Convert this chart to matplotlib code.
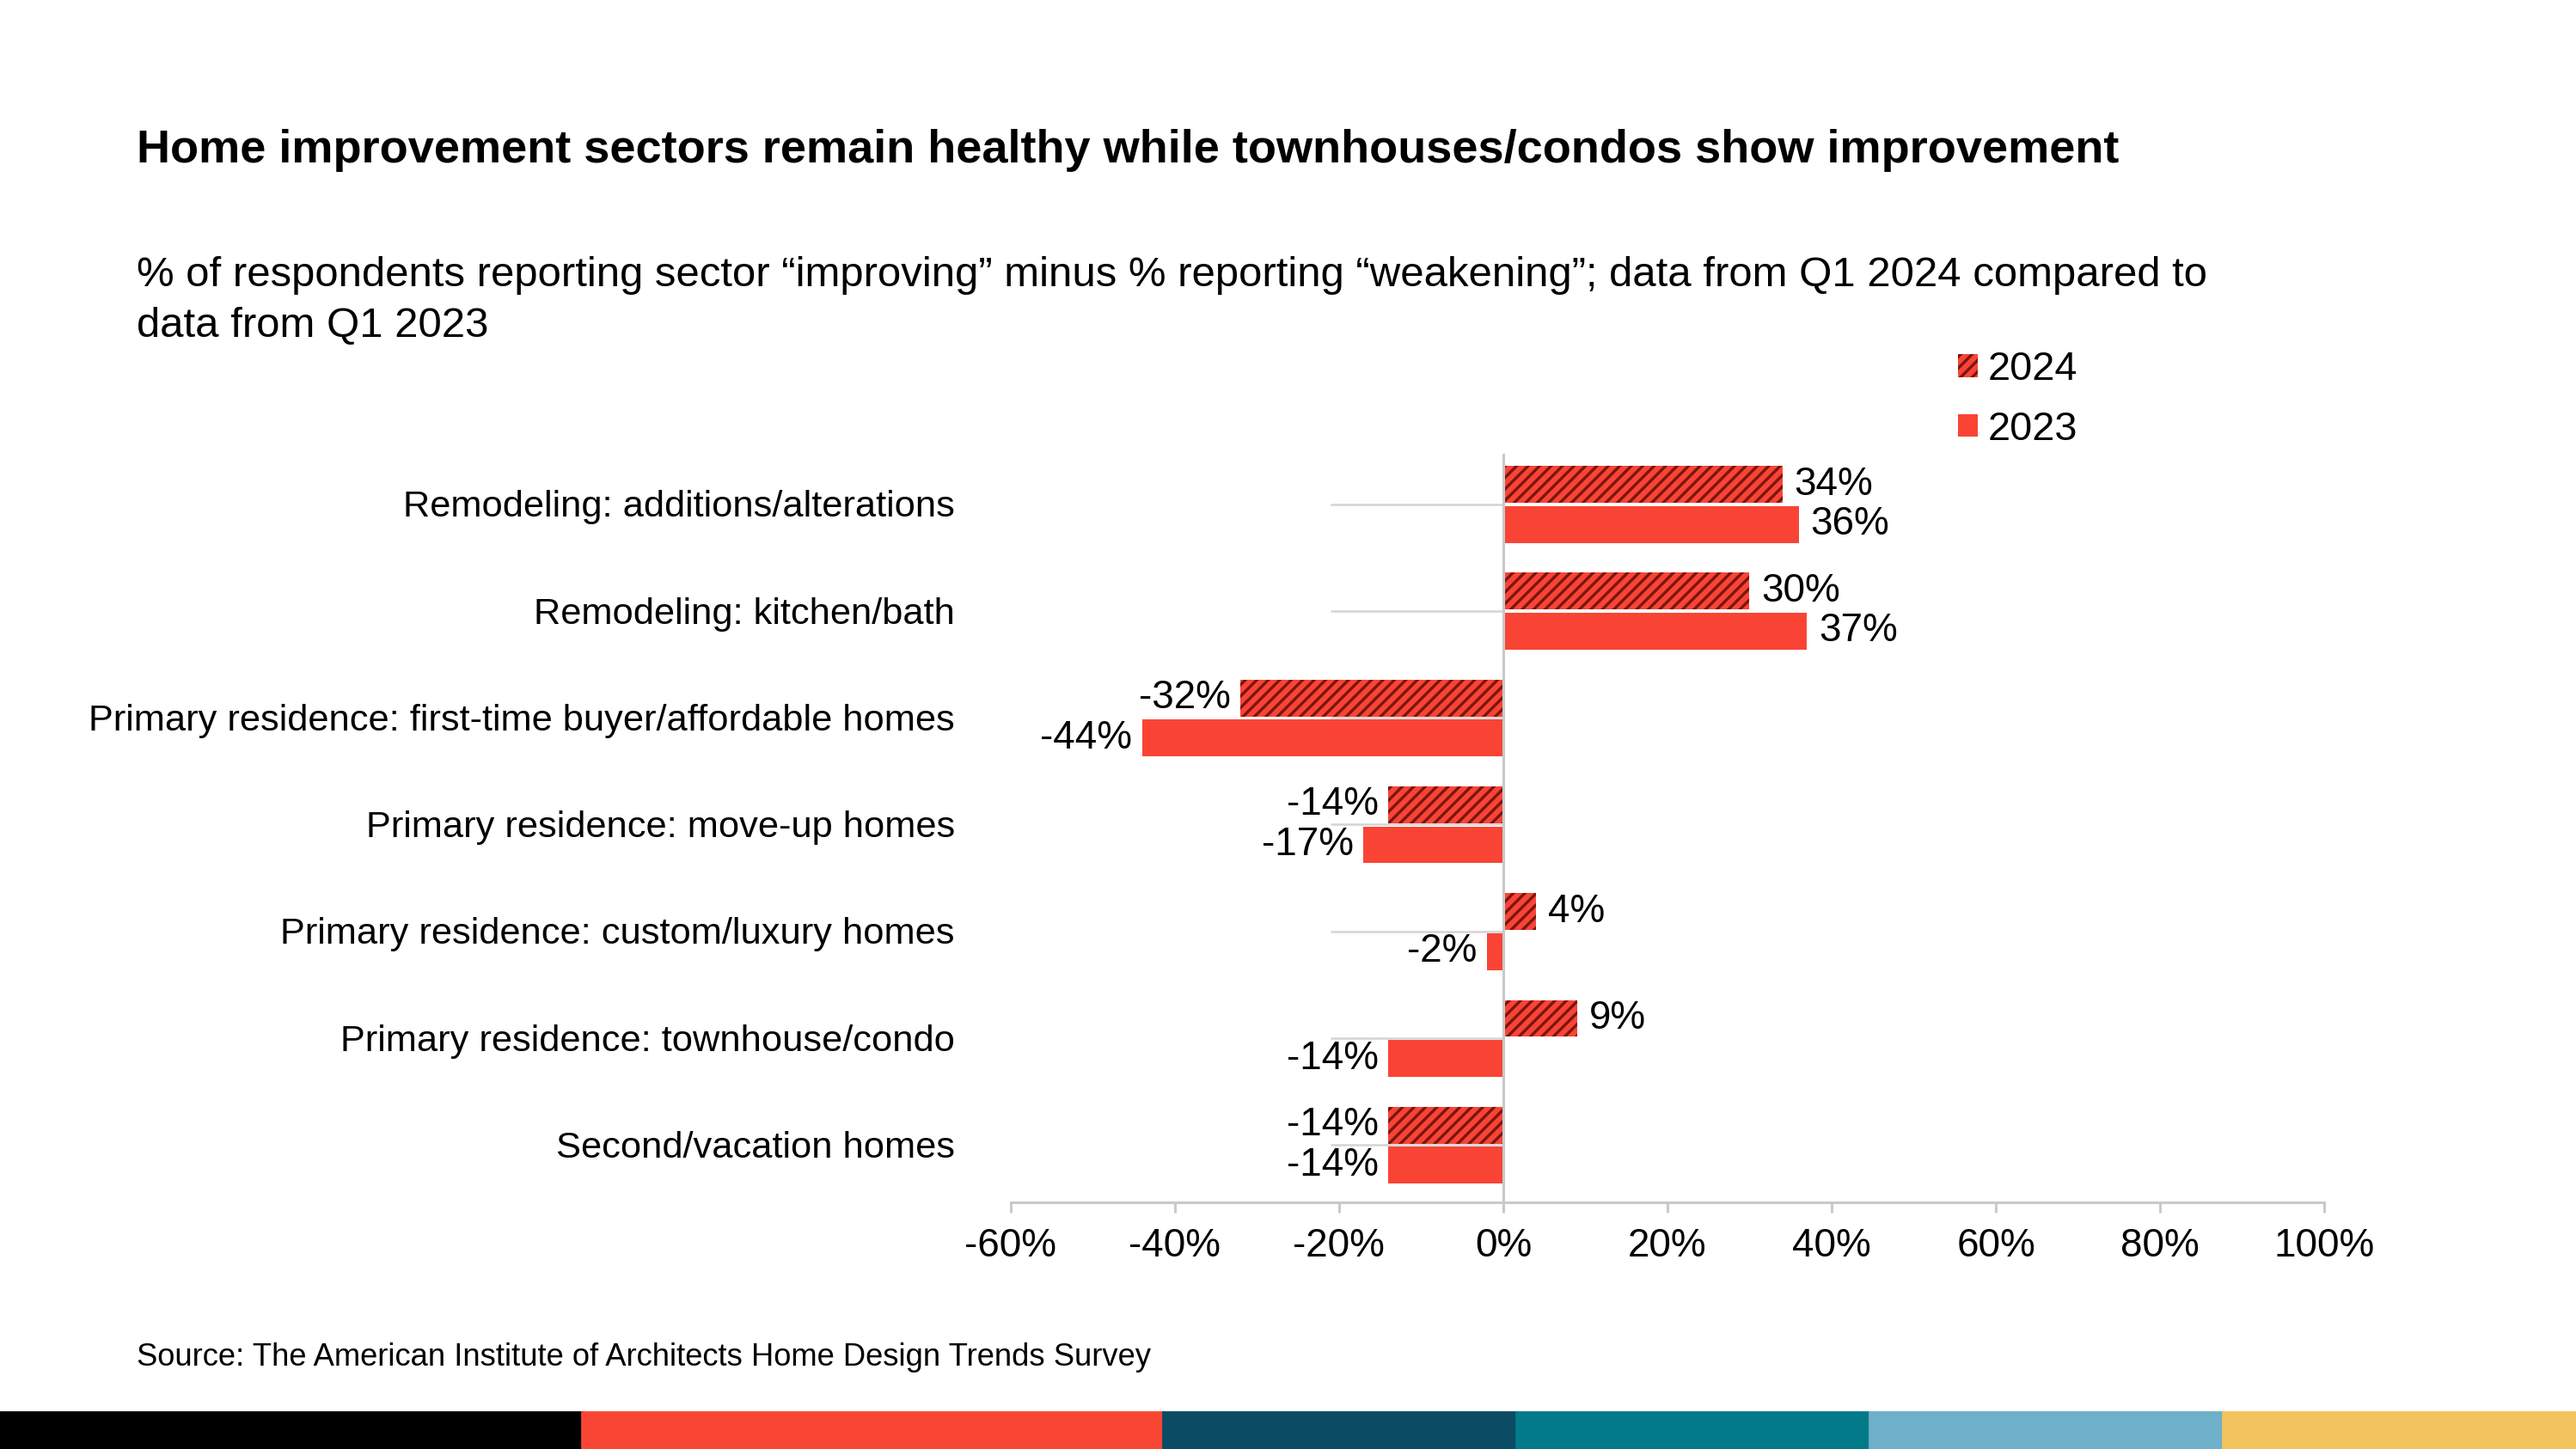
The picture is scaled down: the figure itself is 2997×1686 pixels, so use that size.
import matplotlib.pyplot as plt
import numpy as np
from matplotlib.patches import Rectangle

# data
categories = ["Remodeling: additions/alterations",
              "Remodeling: kitchen/bath",
              "Primary residence: first-time buyer/affordable homes",
              "Primary residence: move-up homes",
              "Primary residence: custom/luxury homes",
              "Primary residence: townhouse/condo",
              "Second/vacation homes"]
values_2024 = [34, 30, -32, -14, 4, 9, -14]
values_2023 = [36, 37, -44, -17, -2, -14, -14]
x_ticks = [-60, -40, -20, 0, 20, 40, 60, 80, 100]
x_tick_labels = ["-60%", "-40%", "-20%", "0%", "20%", "40%", "60%", "80%", "100%"]
stripe_colors = ["#000000", "#F94634", "#0B4B63", "#037A89", "#6EAFC9", "#F2C45F"]
stripe_edges = [0, 0.2258, 0.4515, 0.5887, 0.7258, 0.8629, 1.0]

title = "Home improvement sectors remain healthy while townhouses/condos show improvement"
subtitle_1 = ("% of respondents reporting sector \u201cimproving\u201d minus % reporting "
              "\u201cweakening\u201d; data from Q1 2024 compared to")
subtitle_2 = "data from Q1 2023"
source = "Source: The American Institute of Architects Home Design Trends Survey"

red = "#F94435"
dark = "#7A1510"
grey = "#C9C9C9"

plt.rcParams['font.family'] = ['Liberation Sans', 'DejaVu Sans']
plt.rcParams['hatch.linewidth'] = 1.2
plt.rcParams['hatch.color'] = dark

fig = plt.figure(figsize=(14.985, 8.43), dpi=200)
ax = fig.add_axes([0.3923, 0.170, 0.5100, 0.516])

y = np.arange(len(categories))
h = 0.345

# grey stubs at each category
ax.hlines(y, -21, 0, color="#D4D4D4", lw=0.9, zorder=0.5)

ax.barh(y - 0.185, values_2024, height=h, color=red, edgecolor=dark,
        hatch="/////", linewidth=0, label="2024", zorder=2)
ax.barh(y + 0.19, values_2023, height=h, color=red, linewidth=0,
        label="2023", zorder=2)

# data labels
for vals, off in ((values_2024, -0.185), (values_2023, 0.19)):
    for i, v in enumerate(vals):
        ax.annotate(f"{v}%", xy=(v, i + off), xytext=(5 if v >= 0 else -4, 0),
                    textcoords="offset points", ha="left" if v >= 0 else "right",
                    va="center", fontsize=16.5, color="black")

# category labels
for i, c in enumerate(categories):
    ax.text(-0.0425, i + 0.03, c, transform=ax.get_yaxis_transform(),
            ha="right", va="center", fontsize=15.6)

ax.set_xlim(-60, 100)
ax.set_ylim(6.54, -0.46)
ax.set_xticks(x_ticks)
ax.set_xticklabels(x_tick_labels)
ax.set_yticks([])
ax.tick_params(axis="x", length=4.3, width=1.1, color=grey, pad=6, labelsize=16.5)

for s in ["top", "right"]:
    ax.spines[s].set_visible(False)
ax.spines["bottom"].set_color(grey)
ax.spines["bottom"].set_linewidth(1.1)
ax.spines["left"].set_position(("data", 0))
ax.spines["left"].set_color(grey)
ax.spines["left"].set_linewidth(1.1)

# legend
leg = fig.legend(loc="upper left", bbox_to_anchor=(0.760, 0.758), frameon=False,
                 fontsize=16.9, handlelength=0.49, handleheight=0.49,
                 handletextpad=0.25, labelspacing=0.55, borderpad=0, borderaxespad=0)

# titles
fig.text(0.0529, 0.8878, title, fontsize=19.5, fontweight="bold", va="baseline")
fig.text(0.0529, 0.8027, subtitle_1, fontsize=17.7, va="baseline")
fig.text(0.0529, 0.7676, subtitle_2, fontsize=17.7, va="baseline")
fig.text(0.0529, 0.0578, source, fontsize=13.1, va="baseline")

# colored stripe along the bottom
for i, col in enumerate(stripe_colors):
    fig.patches.append(Rectangle((stripe_edges[i], 0), stripe_edges[i + 1] - stripe_edges[i],
                                 0.0255, transform=fig.transFigure, color=col, zorder=5))

fig.savefig("out.png", dpi=200)
